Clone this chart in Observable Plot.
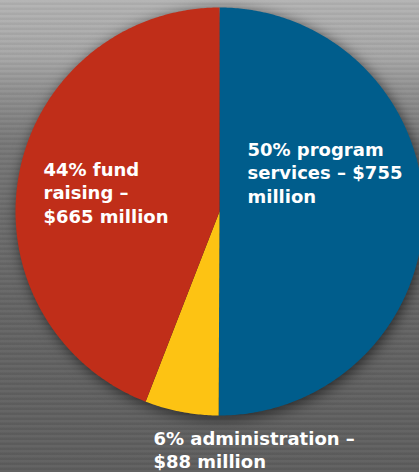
<!DOCTYPE html>
<html>
<head>
<meta charset="utf-8">
<script src="https://cdn.jsdelivr.net/npm/d3@7"></script>
<script src="https://cdn.jsdelivr.net/npm/@observablehq/plot@0.6"></script>
<style>
  html, body { margin: 0; padding: 0; }
  body {
    width: 419px; height: 472px; overflow: hidden;
    background:
      repeating-linear-gradient(180deg, rgba(255,255,255,0.03) 0px, rgba(255,255,255,0.03) 2px, rgba(0,0,0,0.04) 3px, rgba(0,0,0,0.04) 5px),
      linear-gradient(180deg, #b3b3b3 0%, #a6a6a6 12%, #8e8e8e 20%, #787878 30%, #6c6c6c 45%, #646464 65%, #5e5e5e 100%);
  }
  #chart svg { display: block; background: transparent; }
</style>
</head>
<body>
<div id="chart"></div>
<script>
// Data
const categories = ["program services", "administration", "fund raising"];
const amounts = [755, 88, 665];            // $ million
const percents = [50, 6, 44];
const labels = [
  "50% program\nservices – $755\nmillion",
  "6% administration –\n$88 million",
  "44% fund\nraising –\n$665 million"
];
const colors = ["#005d8c", "#fdc313", "#c02e19"];

// Build slice outlines from the pie angles
const arcs = d3.pie().sort(null).value(d => d.amount)(
  categories.map((c, i) => ({ category: c, amount: amounts[i] }))
);
const outline = [];
for (const a of arcs) {
  const n = Math.max(2, Math.ceil((a.endAngle - a.startAngle) / 0.01));
  outline.push({ category: a.data.category, x: 0, y: 0 });
  for (let k = 0; k <= n; k++) {
    const t = a.startAngle + (a.endAngle - a.startAngle) * k / n;
    outline.push({ category: a.data.category, x: Math.sin(t), y: Math.cos(t) });
  }
}

const labelData = categories.map((c, i) => ({ category: c, text: labels[i] }));
const labelOffsets = { // px offsets from pie centre (layout)
  "program services": [28, -73],
  "administration": [-66, 216],
  "fund raising": [-176, -53]
};

const R = 204, cx = 219, cy = 211, W = 419, H = 472;
const chart = Plot.plot({
  width: W, height: H, margin: 0,
  x: { domain: [-cx / R, (W - cx) / R], range: [0, W], axis: null },
  y: { domain: [-(H - cy) / R, cy / R], range: [H, 0], axis: null },
  color: { domain: categories, range: colors },
  style: { background: "transparent", overflow: "visible" },
  marks: [
    Plot.line(outline, { x: "x", y: "y", z: "category", fill: "category", stroke: null, curve: "linear" }),
    Plot.text(labelData, {
      x: () => 0, y: () => 0,
      text: "text",
      textAnchor: "start", lineAnchor: "top", lineHeight: 1.33,
      fill: "white", fontSize: 18, fontWeight: "bold",
      fontFamily: "DejaVu Sans"
    })
  ]
});
document.getElementById("chart").appendChild(chart);

// per-label placement relative to the pie centre
d3.select(chart).selectAll("g[aria-label=text] text").each(function(d, i) {
  const off = labelOffsets[labelData[i].category];
  d3.select(this).attr("transform", `translate(${cx + off[0]},${cy + off[1]})`);
});
d3.select(chart).select("g[aria-label=line]").style("filter", "drop-shadow(2px 3px 7px rgba(0,0,0,0.6))");
</script>
</body>
</html>
